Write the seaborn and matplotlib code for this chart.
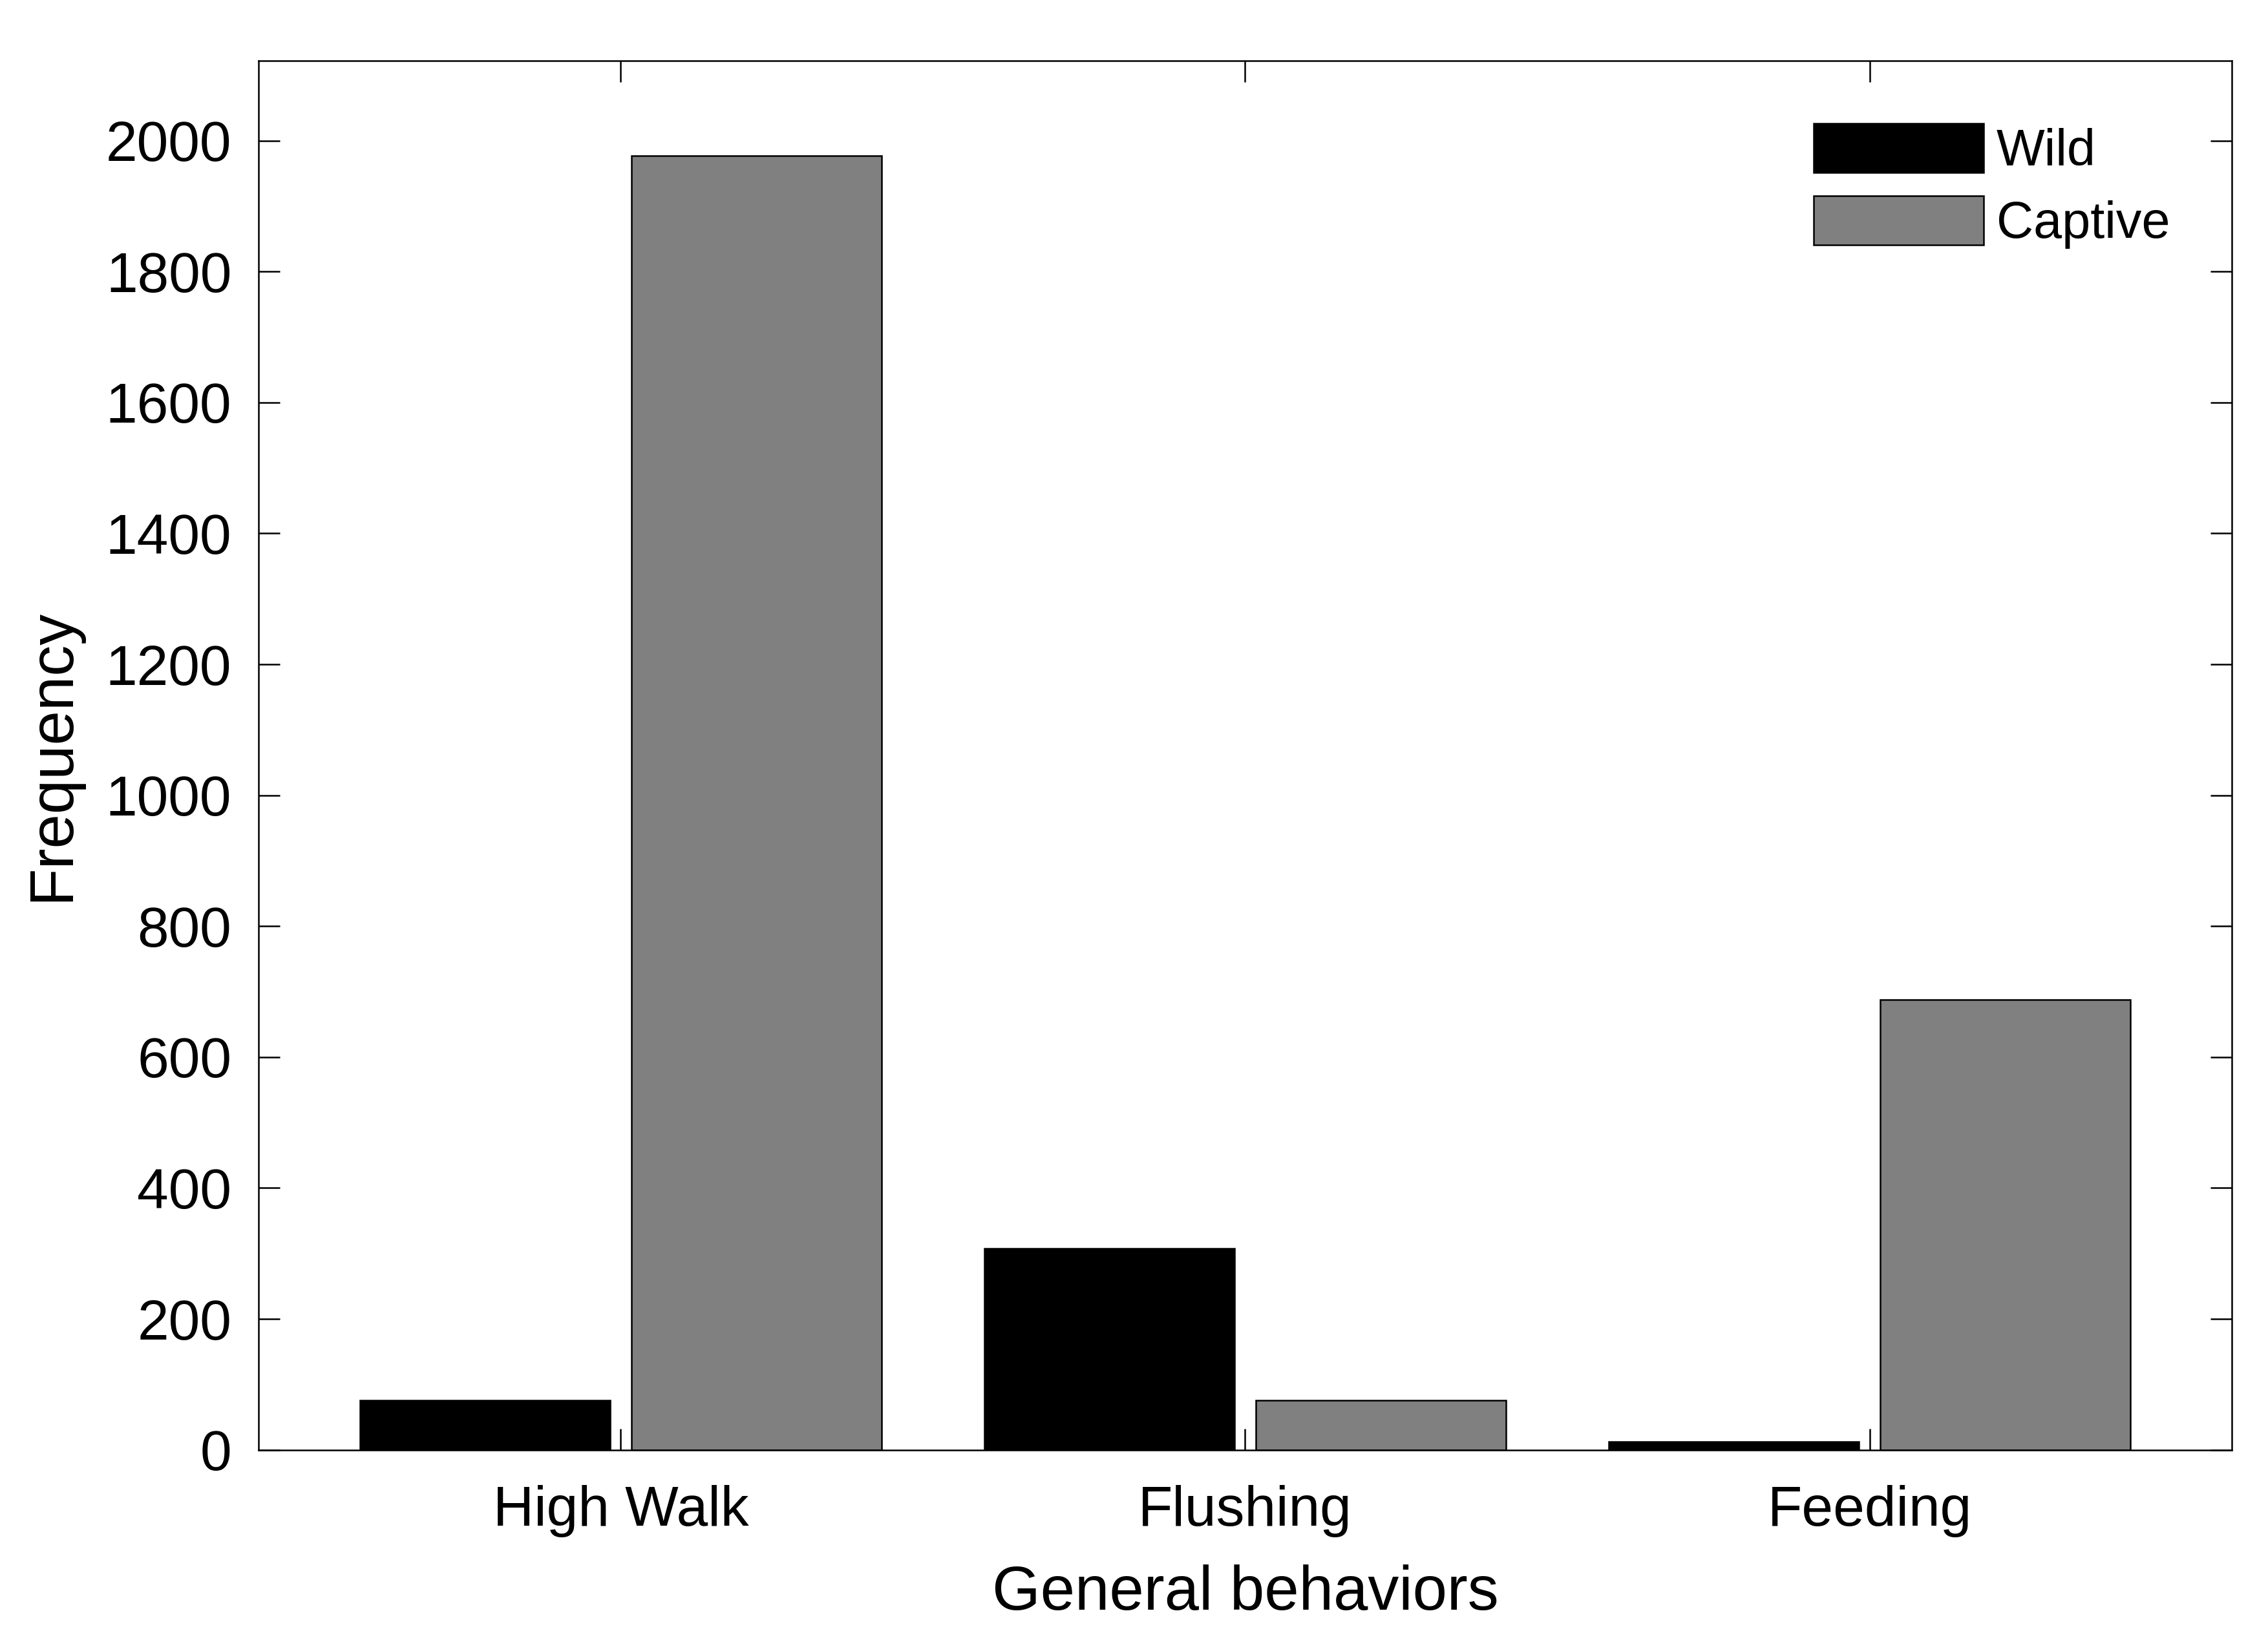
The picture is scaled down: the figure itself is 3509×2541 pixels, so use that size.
import matplotlib
matplotlib.use("Agg")
import matplotlib.pyplot as plt
from matplotlib.patches import Patch
import seaborn as sns
import pandas as pd

behaviors = ['High Walk', 'Flushing', 'Feeding']
wild = [76, 308, 13]
captive = [1977, 76, 688]
groups = ['Wild', 'Captive']

df = pd.DataFrame({
    'behavior': behaviors * 2,
    'group': ['Wild'] * 3 + ['Captive'] * 3,
    'freq': wild + captive,
})

sns.set_style("ticks")
plt.rcParams['font.family'] = ['Liberation Sans', 'DejaVu Sans']
plt.rcParams['text.color'] = 'black'
plt.rcParams['axes.labelcolor'] = 'black'

colors = {'Wild': '#000000', 'Captive': '#808080'}

fig = plt.figure(figsize=(3509 / 300, 2541 / 300), dpi=300)
ax = fig.add_axes([0.114, 0.117, 0.870, 0.846])

sns.barplot(
    data=df, x='behavior', y='freq', hue='group',
    order=behaviors, hue_order=groups, palette=colors,
    width=0.87, gap=0.08, edgecolor='black', linewidth=0.6,
    saturation=1, errorbar=None, legend=False, ax=ax
)

ax.set_xlim(-0.58, 2.58)
ax.set_ylim(0, 2122)
ax.set_yticks(range(0, 2001, 200))

for s in ax.spines.values():
    s.set_visible(True)
    s.set_linewidth(0.6)
    s.set_color('black')

ax.tick_params(direction='in', length=8, width=0.6, labelsize=21,
               top=True, right=True, colors='black')
ax.tick_params(axis='y', pad=10)
ax.tick_params(axis='x', pad=13)

ax.set_xlabel('General behaviors', fontsize=23, labelpad=10)
ax.set_ylabel('Frequency', fontsize=23, labelpad=9)

handles = [Patch(facecolor=colors[g], edgecolor='black', linewidth=0.6, label=g)
           for g in groups]
ax.legend(handles=handles, loc='upper left', bbox_to_anchor=(0.788, 0.955),
          frameon=False, fontsize=19, handlelength=3.33, handleheight=1.1,
          handletextpad=0.25, labelspacing=0.38, borderpad=0, borderaxespad=0)

fig.savefig('out.png', dpi=300)
